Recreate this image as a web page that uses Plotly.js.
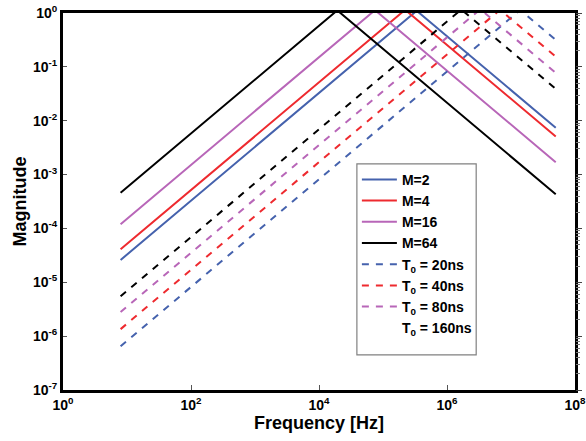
<!DOCTYPE html>
<html>
<head>
<meta charset="utf-8">
<script src="https://cdn.plot.ly/plotly-3.0.1.min.js"></script>
<style>html,body{margin:0;padding:0;background:#fff;}#chart{width:586px;height:441px;}</style>
</head>
<body>
<div id="chart"></div>
<script>
// Frequencies [Hz]: start, (clipped) peak, end of each response
const freqM2   = [7.94, 3.36e5, 5e7];
const magM2    = [2.6e-5, 1.10, 7.4e-3];
const freqM4   = [7.94, 2.22e5, 5e7];
const magM4    = [4.1e-5, 1.147, 5.1e-3];
const freqM16  = [7.94, 7.5e4, 5e7];
const magM16   = [1.2e-4, 1.13, 1.7e-3];
const freqM64  = [7.94, 1.93e4, 5e7];
const magM64   = [4.6e-4, 1.12, 4.3e-4];
const freqT20  = [7.94, 1.389e7, 5e7];
const magT20   = [6.5e-7, 1.137, 0.316];
const freqT40  = [7.94, 6.75e6, 5e7];
const magT40   = [1.35e-6, 1.148, 0.155];
const freqT80  = [7.94, 3.317e6, 5e7];
const magT80   = [2.8e-6, 1.17, 0.0776];
const freqT160 = [7.94, 1.676e6, 5e7];
const magT160  = [5.5e-6, 1.16, 0.0389];

const names = ['M=2', 'M=4', 'M=16', 'M=64',
  'T<sub>0</sub> = 20ns', 'T<sub>0</sub> = 40ns', 'T<sub>0</sub> = 80ns', 'T<sub>0</sub> = 160ns'];

const xTickVals = [1, 1e2, 1e4, 1e6, 1e8];
const xTickText = ['<b>10<sup>0</sup></b>', '<b>10<sup>2</sup></b>', '<b>10<sup>4</sup></b>',
  '<b>10<sup>6</sup></b>', '<b>10<sup>8</sup></b>'];
const yTickVals = [1e-7, 1e-6, 1e-5, 1e-4, 1e-3, 1e-2, 1e-1, 1];
const yTickText = ['<b>10<sup>-7</sup></b>', '<b>10<sup>-6</sup></b>', '<b>10<sup>-5</sup></b>',
  '<b>10<sup>-4</sup></b>', '<b>10<sup>-3</sup></b>', '<b>10<sup>-2</sup></b>',
  '<b>10<sup>-1</sup></b>', '<b>10<sup>0</sup></b>'];

const BLUE = '#4562ad', RED = '#ee2a2f', MAG = '#b866b8', BLK = '#000000';
const DASH = '7px,7px';

function tr(x, y, name, color, dash, show, yax) {
  return {x: x, y: y, name: name, type: 'scatter', mode: 'lines',
    line: {color: color, width: 2, dash: dash || 'solid'}, showlegend: show !== false,
    yaxis: yax || 'y'};
}

const traces = [
  tr(freqM2, magM2, names[0], BLUE),
  tr(freqM4, magM4, names[1], RED),
  tr(freqM16, magM16, names[2], MAG),
  tr(freqM64, magM64, names[3], BLK),
  tr(freqT20, magT20, names[4], BLUE, DASH),
  tr(freqT40, magT40, names[5], RED, DASH),
  tr(freqT80, magT80, names[6], MAG, DASH),
  tr(freqT160, magT160, names[7], BLK, DASH, false, 'y2'),
  {x: [null], y: [null], name: names[7], type: 'scatter', mode: 'lines',
   line: {color: 'rgba(0,0,0,0)', width: 2}, showlegend: true}
];

const FONT = 'Arial, "Liberation Sans", sans-serif';

const layout = {
  width: 586, height: 441,
  margin: {l: 63, r: 11, t: 13, b: 51},
  paper_bgcolor: '#fff', plot_bgcolor: '#fff',
  font: {family: FONT, color: '#000'},
  showlegend: true,
  legend: {x: 0.574, y: 0.6, xanchor: 'left', yanchor: 'top',
    bgcolor: 'rgba(255,255,255,0)', borderwidth: 0,
    font: {family: FONT, size: 14, weight: 'bold', color: '#000'},
    itemwidth: 35, tracegroupgap: 0},
  shapes: [{type: 'rect', xref: 'paper', yref: 'paper',
    x0: 0.574, x1: 0.807, y0: 0.093, y1: 0.6,
    line: {color: '#808080', width: 1.2}, fillcolor: 'rgba(0,0,0,0)', layer: 'above'}],
  xaxis: {type: 'log', range: [0, 8], tickmode: 'array', tickvals: xTickVals, ticktext: xTickText,
    showgrid: false, zeroline: false, ticklabeloverflow: 'allow',
    showline: true, linewidth: 3, linecolor: '#000', mirror: true,
    ticks: 'inside', ticklen: 5, tickwidth: 1, tickcolor: '#555',
    tickfont: {family: FONT, size: 14, weight: 'bold'},
    title: {text: 'Frequency [Hz]', font: {family: FONT, size: 18, weight: 'bold'}, standoff: 2}},
  yaxis: {type: 'log', range: [-7, 0], tickmode: 'array', tickvals: yTickVals, ticktext: yTickText,
    showgrid: false, zeroline: false,
    showline: true, linewidth: 3, linecolor: '#000', mirror: true,
    ticks: 'inside', ticklen: 4, tickwidth: 1, tickcolor: '#555',
    tickfont: {family: FONT, size: 14, weight: 'bold'},
    title: {text: 'Magnitude', font: {family: FONT, size: 18, weight: 'bold'}, standoff: 2}},
  yaxis2: {type: 'log', range: [-7, 0], dtick: 1, overlaying: 'y', side: 'right', anchor: 'x',
    showgrid: false, zeroline: false, showline: false, showticklabels: false,
    ticks: 'outside', ticklen: 6, tickwidth: 1, tickcolor: '#444',
    minor: {ticks: 'outside', ticklen: 4, tickwidth: 1, tickcolor: '#777', dtick: 'D1', showgrid: false}}
};

Plotly.newPlot('chart', traces, layout, {displayModeBar: false, staticPlot: true});
</script>
</body>
</html>
